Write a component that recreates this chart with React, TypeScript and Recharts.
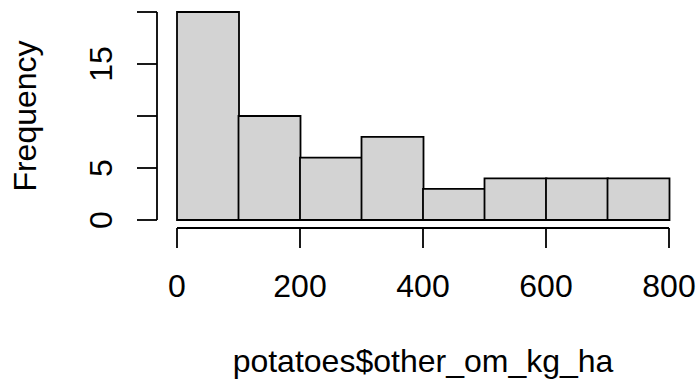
import React from 'react';
import { ComposedChart, Bar, XAxis, YAxis } from 'recharts';

// histogram of potatoes$other_om_kg_ha, bins of width 100
const binStarts = [0, 100, 200, 300, 400, 500, 600, 700];
const binWidth = 100;
const binCounts = [20, 10, 6, 8, 3, 4, 4, 4];

const xTicks = [0, 200, 400, 600, 800];
const yTicks = [0, 5, 10, 15, 20];
// R drops the labels that would overlap
const yTickLabels = ['0', '5', '', '15', ''];

const FONT = '"Liberation Sans", Arial, sans-serif';
const FS = 32;

const data = binStarts.map((start, i) => ({ mid: start + binWidth / 2, count: binCounts[i] }));

const XTick = (props: any) => {
  const { x, y, payload } = props;
  return (
    <text x={x} y={y} textAnchor="middle" fontFamily={FONT} fontSize={FS} fill="#000">
      {payload.value}
    </text>
  );
};

const YTick = (props: any) => {
  const { x, y, payload } = props;
  const label = yTickLabels[yTicks.indexOf(payload.value)];
  if (!label) return null;
  return (
    <text
      x={x}
      y={y}
      transform={`rotate(-90, ${x}, ${y})`}
      textAnchor="middle"
      fontFamily={FONT}
      fontSize={FS}
      fill="#000"
    >
      {label}
    </text>
  );
};

const YTitle = (props: any) => {
  const vb = props.viewBox || { x: 117, y: 12, width: 60, height: 208 };
  const x = vb.x + vb.width - 141;
  const y = vb.y + vb.height / 2;
  return (
    <text x={x} y={y} transform={`rotate(-90, ${x}, ${y})`} textAnchor="middle" fontFamily={FONT} fontSize={FS} fill="#000">
      Frequency
    </text>
  );
};

const XTitle = (props: any) => {
  const vb = props.viewBox || { x: 177, y: 220, width: 492, height: 60 };
  return (
    <text x={vb.x + vb.width / 2} y={vb.y + 152} textAnchor="middle" fontFamily={FONT} fontSize={FS} fill="#000">
      potatoes$other_om_kg_ha
    </text>
  );
};

export default function App() {
  return (
    <div style={{ position: 'absolute', left: 0, top: 0, width: 697, height: 385, background: '#fff' }}>
      <style>{`
        .freq-y .recharts-cartesian-axis-line,
        .freq-y .recharts-cartesian-axis-tick-line { transform: translate(-20px, 0px); }
        .val-x .recharts-cartesian-axis-line,
        .val-x .recharts-cartesian-axis-tick-line { transform: translate(0px, 8px); }
      `}</style>
      <ComposedChart
        width={697}
        height={385}
        data={data}
        margin={{ top: 12, right: 28, bottom: 105, left: 117 }}
        barCategoryGap={0}
        barGap={0}
      >
        <XAxis
          dataKey="mid"
          type="number"
          domain={[0, 800]}
          ticks={xTicks}
          interval={0}
          height={60}
          className="val-x"
          stroke="#000"
          axisLine={{ stroke: '#000', strokeWidth: 1.8 }}
          tickLine={{ stroke: '#000', strokeWidth: 1.8 }}
          tickSize={20}
          tickMargin={57}
          tick={<XTick />}
          label={<XTitle />}
        />
        <YAxis
          type="number"
          domain={[0, 20]}
          ticks={yTicks}
          interval={0}
          width={60}
          className="freq-y"
          stroke="#000"
          axisLine={{ stroke: '#000', strokeWidth: 1.8 }}
          tickLine={{ stroke: '#000', strokeWidth: 1.8 }}
          tickSize={20}
          tickMargin={45}
          tick={<YTick />}
          label={<YTitle />}
        />
        <Bar
          dataKey="count"
          fill="#d3d3d3"
          stroke="#000"
          strokeWidth={1.8}
          isAnimationActive={false}
        />
      </ComposedChart>
    </div>
  );
}
